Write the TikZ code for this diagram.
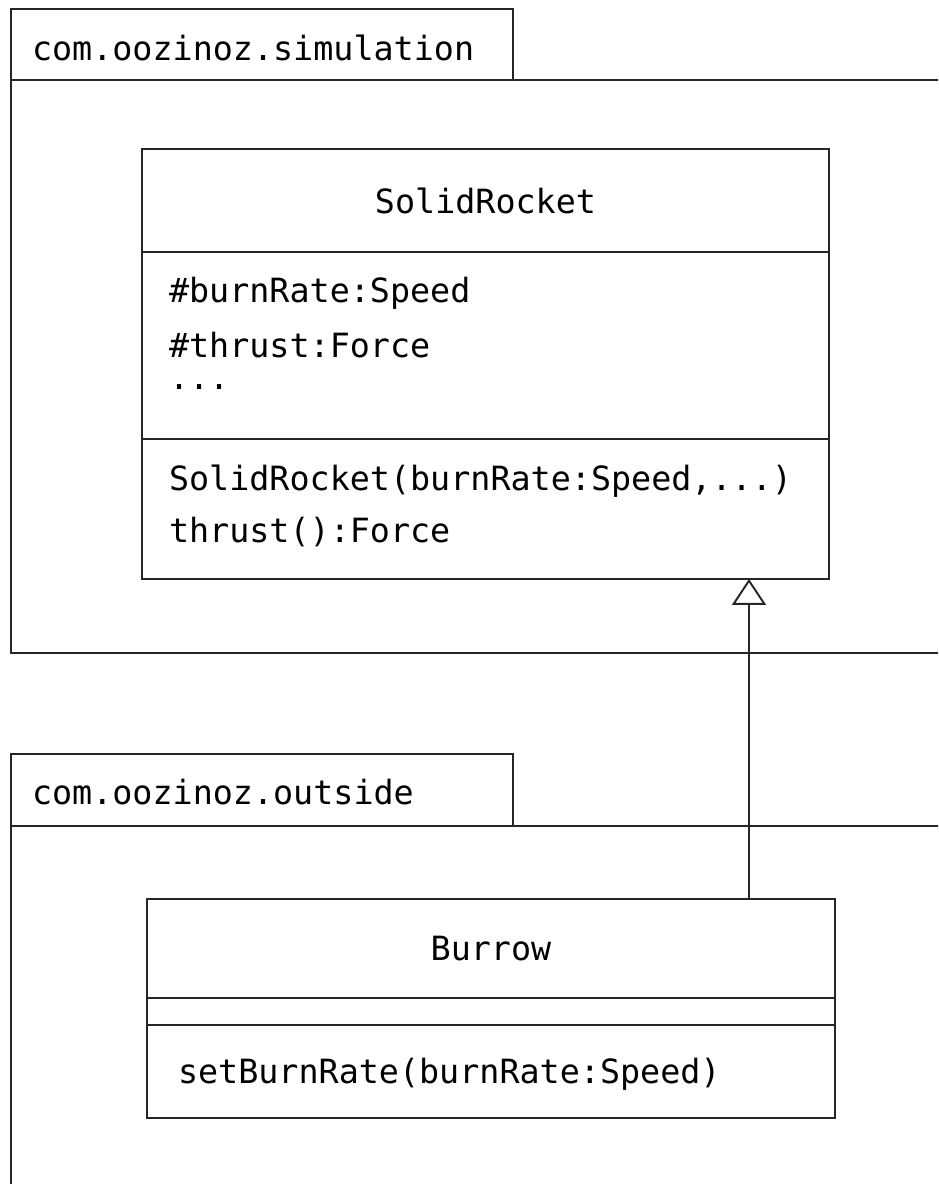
\documentclass[tikz,border=0pt]{standalone}
\usepackage{fontspec}
\setmonofont{DejaVu Sans Mono}
\usepackage{tikz}
\usetikzlibrary{arrows.meta}
\usetikzlibrary{positioning}

\begin{document}
\begin{tikzpicture}[
    x=0.02cm, y=-0.02cm,
    line width=1.1pt, draw=black!85,
    every node/.style={font=\fontsize{19pt}{23pt}\selectfont\ttfamily, inner sep=0pt, outer sep=0pt},
    pkgtab/.style={rectangle, draw, minimum width=10.04cm, anchor=north west},
    compart/.style={rectangle, draw, anchor=north},
    member/.style={anchor=base west},
    inherit/.style={-{Triangle[open, length=0.52cm, width=0.68cm]}},
  ]
  \useasboundingbox (0,0) rectangle (938,1184);

  \node[pkgtab, minimum height=1.42cm] (simtab) at (11,9) {};
  \draw (simtab.south west) -- (11,653) -- (938,653);
  \draw (simtab.south west) -- (938,80);
  \node[member] (simname) at (32,60) {com.oozinoz.simulation};

  \node[compart, minimum width=13.74cm, minimum height=2.06cm] (rocket) at (485.5,149) {SolidRocket};
  \node[compart, minimum width=13.74cm, minimum height=3.74cm, below=0pt of rocket] (rocketattr) {};
  \node[compart, minimum width=13.74cm, minimum height=2.80cm, below=0pt of rocketattr] (rocketops) {};
  \node[member] (burnrate) at (169,302) {\#burnRate:Speed};
  \node[member] (thrustattr) at (169,357) {\#thrust:Force};
  \node[member] (moreattr) at (169,389) {...};
  \node[member] (ctor) at (169,490) {SolidRocket(burnRate:Speed,...)};
  \node[member] (thrustop) at (169,542) {thrust():Force};

  \node[pkgtab, minimum height=1.44cm] (outtab) at (11,754) {};
  \draw (outtab.south west) -- (11,1184);
  \draw (outtab.south west) -- (938,826);
  \node[member] (outname) at (32,804) {com.oozinoz.outside};

  \node[compart, minimum width=13.76cm, minimum height=1.98cm] (burrow) at (491,899) {Burrow};
  \node[compart, minimum width=13.76cm, minimum height=0.54cm, below=0pt of burrow] (burrowattr) {};
  \node[compart, minimum width=13.76cm, minimum height=1.86cm, below=0pt of burrowattr] (burrowops) {};
  \node[member] (setrate) at (178,1083) {setBurnRate(burnRate:Speed)};

  \coordinate (hook) at (749,0);
  \draw[inherit] (burrow.north -| hook) -- (rocketops.south -| hook);
\end{tikzpicture}
\end{document}
